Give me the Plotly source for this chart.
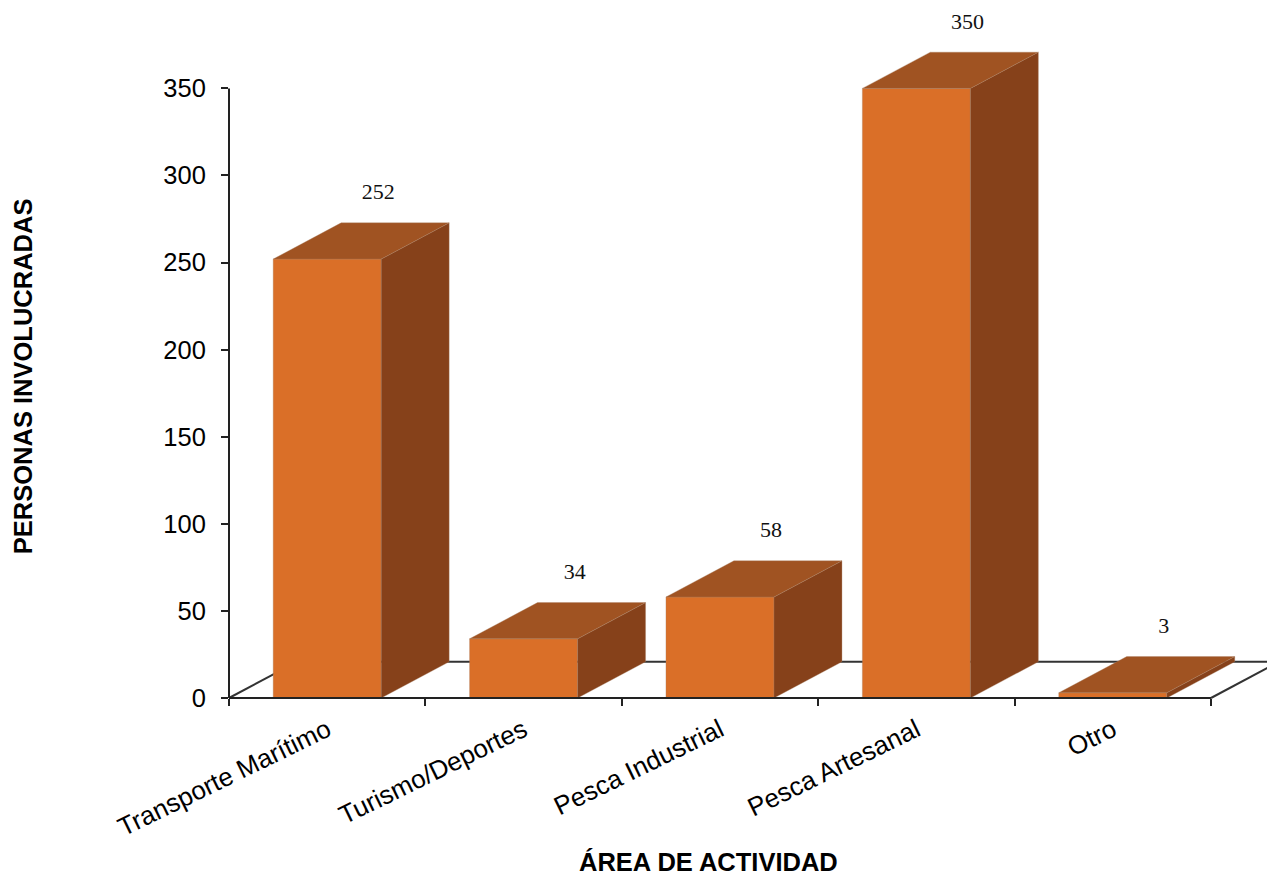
import plotly.graph_objects as go

categories = ["Transporte Marítimo", "Turismo/Deportes", "Pesca Industrial", "Pesca Artesanal", "Otro"]
values = [252, 34, 58, 350, 3]
y_ticks = [0, 50, 100, 150, 200, 250, 300, 350]

BAR_W = 0.55
DEPTH_X = 0.346
DEPTH_Y = 20.8
FRONT = "#DA6F28"
TOP = "#A05322"
SIDE = "#86411A"
EDGE = "rgba(170,130,100,0.35)"
AXIS = "#222222"
N = len(categories)
YMAX = y_ticks[-1]
XTOP = 5.326   # axis range is extended so the depth faces fit inside the plot area
YTOP = 395
centers = [i + 0.5 for i in range(N)]

fig = go.Figure()

fig.add_trace(go.Bar(x=centers, y=values, width=BAR_W, cliponaxis=False,
                     marker=dict(color=FRONT, line=dict(color=EDGE, width=1)),
                     hoverinfo="skip", showlegend=False))

side_x, side_y, top_x, top_y = [], [], [], []
for c, v in zip(centers, values):
    l, r = c - BAR_W / 2, c + BAR_W / 2
    side_x += [r, r + DEPTH_X, r + DEPTH_X, r, r, None]
    side_y += [0, DEPTH_Y, v + DEPTH_Y, v, 0, None]
    top_x += [l, l + DEPTH_X, r + DEPTH_X, r, l, None]
    top_y += [v, v + DEPTH_Y, v + DEPTH_Y, v, v, None]

for xs, ys, col in ((side_x, side_y, SIDE), (top_x, top_y, TOP)):
    fig.add_trace(go.Scatter(x=xs, y=ys, mode="lines", fill="toself", fillcolor=col,
                             line=dict(color=EDGE, width=1), cliponaxis=False,
                             hoverinfo="skip", showlegend=False))

fig.add_trace(go.Scatter(x=[c + 0.26 for c in centers], y=[v + 37.4 for v in values],
                         mode="text", text=[str(v) for v in values],
                         textposition="middle center", cliponaxis=False,
                         textfont=dict(family="Liberation Serif", size=22, color="#111111"),
                         hoverinfo="skip", showlegend=False))


def px(x):
    return x / XTOP


def py(y):
    return y / YTOP


floor_line = dict(color="#333333", width=2)
for x0, y0, x1, y1 in ((0, 0, DEPTH_X, DEPTH_Y),
                       (DEPTH_X, DEPTH_Y, N + DEPTH_X, DEPTH_Y),
                       (N, 0, N + DEPTH_X, DEPTH_Y)):
    fig.add_shape(type="line", xref="paper", yref="paper", layer="below",
                  x0=px(x0), y0=py(y0), x1=px(x1), y1=py(y1), line=floor_line)

axis_line = dict(color=AXIS, width=2)
fig.add_shape(type="line", xref="paper", yref="paper", layer="above",
              x0=px(0), y0=py(0), x1=px(N), y1=py(0), line=axis_line)
fig.add_shape(type="line", xref="paper", yref="paper", layer="above",
              x0=px(0), y0=py(0), x1=px(0), y1=py(YMAX), line=axis_line)

fig.update_layout(
    width=1275, height=868,
    autosize=False,
    margin=dict(l=221, r=8, t=1.6, b=178, autoexpand=False),
    paper_bgcolor="white", plot_bgcolor="white",
    font=dict(family="Liberation Sans", color="black"),
    xaxis=dict(range=[0, XTOP], showgrid=False, zeroline=False, showline=False,
               tickmode="array", tickvals=centers, ticktext=categories,
               ticks="", tickangle=-26, tickfont=dict(size=26), ticklabelstandoff=11,
               minor=dict(tickmode="array", tickvals=list(range(N + 1)), ticks="outside",
                          ticklen=7, tickwidth=1.5, tickcolor=AXIS, showgrid=False)),
    yaxis=dict(range=[0, YTOP], showgrid=False, zeroline=False, showline=False,
               tickmode="array", tickvals=y_ticks, ticks="outside", ticklen=7,
               tickwidth=1.5, tickcolor=AXIS, tickfont=dict(size=25.5), ticklabelstandoff=10),
    annotations=[
        dict(text="<b>ÁREA DE ACTIVIDAD</b>", xref="paper", x=px(2.44), yref="paper", y=-(854 - 690) / 688.4,
             xanchor="center", yanchor="middle", showarrow=False, font=dict(size=25.5, color="black")),
        dict(text="<b>PERSONAS INVOLUCRADAS</b>", xref="paper", x=-(221 - 15) / 1046, yref="paper",
             y=(690 - 368) / 688.4,
             xanchor="center", yanchor="middle", showarrow=False, textangle=-90,
             font=dict(size=25.5, color="black")),
    ],
)

fig.write_html("out.html")
